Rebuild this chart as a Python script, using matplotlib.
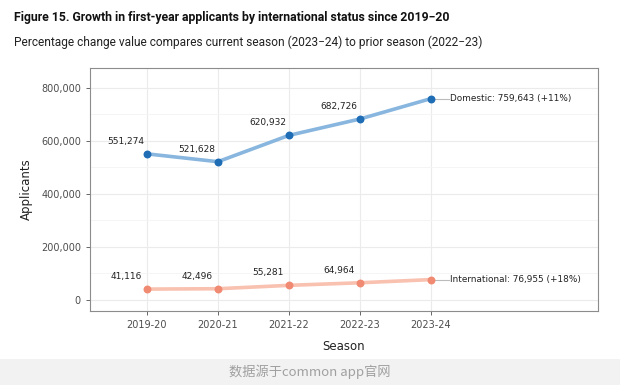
import matplotlib
matplotlib.use('Agg')
import matplotlib.pyplot as plt
from matplotlib.ticker import FuncFormatter, MultipleLocator

# data
seasons = ['2019-20', '2020-21', '2021-22', '2022-23', '2023-24']
domestic = [551274, 521628, 620932, 682726, 759643]
international = [41116, 42496, 55281, 64964, 76955]
end_labels = ['Domestic: 759,643 (+11%)', 'International: 76,955 (+18%)']

plt.rcParams['font.family'] = ['DejaVu Sans', 'Noto Sans CJK SC']

fig = plt.figure(figsize=(6.2, 3.85), dpi=100)
ax = fig.add_axes([90 / 620, 1 - 311 / 385, 508 / 620, 243 / 385])

x = list(range(len(seasons)))
series = [
    (domestic, '#88b6de', '#1f6db5'),
    (international, '#f9c1b0', '#f08a72'),
]
for vals, line_c, pt_c in series:
    ax.plot(x, vals, color=line_c, lw=2.6, zorder=2, solid_capstyle='round')
    ax.scatter(x, vals, color=pt_c, s=22, zorder=3)
    for xi, v in zip(x[:-1], vals[:-1]):
        ax.annotate(f'{v:,}', (xi, v), xytext=(-15, 9), textcoords='offset points',
                    ha='center', va='center', fontsize=6.5, color='#222222')

for (vals, _, _), lab in zip(series, end_labels):
    ax.plot([x[-1], x[-1] + 0.25], [vals[-1], vals[-1]], color='#bbbbbb', lw=0.8, zorder=1)
    ax.text(x[-1] + 0.27, vals[-1], lab, ha='left', va='center', fontsize=6.4, color='#222222')

ax.set_xlim(-0.8, 6.35)
ax.set_ylim(-41500, 875000)
ax.set_xticks(x)
ax.set_xticklabels(seasons)
ax.yaxis.set_major_locator(MultipleLocator(200000))
ax.yaxis.set_minor_locator(MultipleLocator(100000))
ax.yaxis.set_major_formatter(FuncFormatter(lambda v, p: f'{int(v):,}'))

ax.grid(which='major', color='#ebebeb', lw=0.8, zorder=0)
ax.grid(which='minor', axis='y', color='#f4f4f4', lw=0.6, zorder=0)
ax.set_axisbelow(True)
for s in ax.spines.values():
    s.set_color('#8c8c8c')
    s.set_linewidth(0.8)
ax.tick_params(which='major', labelsize=7, colors='#4d4d4d', length=3, width=0.6)
ax.tick_params(which='minor', length=0)

ax.set_ylabel('Applicants', fontsize=8.5, labelpad=6, color='#222222')
ax.set_xlabel('Season', fontsize=8.5, labelpad=7, color='#222222')

fig.text(14 / 620, 1 - 17 / 385, 'Figure 15. Growth in first-year applicants by international status since 2019\u221220',
         family='Roboto', fontweight='bold', fontsize=8.8, va='center', color='#111111')
fig.text(14 / 620, 1 - 42 / 385, 'Percentage change value compares current season (2023\u221224) to prior season (2022\u221223)',
         family='Roboto', fontsize=8.6, va='center', color='#222222')

# footer band
fig.patches.append(plt.Rectangle((0, 0), 1, 26 / 385, transform=fig.transFigure,
                                 facecolor='#f2f2f2', edgecolor='none'))
fig.text(0.5, 13 / 385, '数据源于common app官网', ha='center', va='center',
         fontsize=9.5, color='#a0a0a0', family=['Noto Sans CJK SC', 'DejaVu Sans'])

fig.savefig('out.png', dpi=100)
